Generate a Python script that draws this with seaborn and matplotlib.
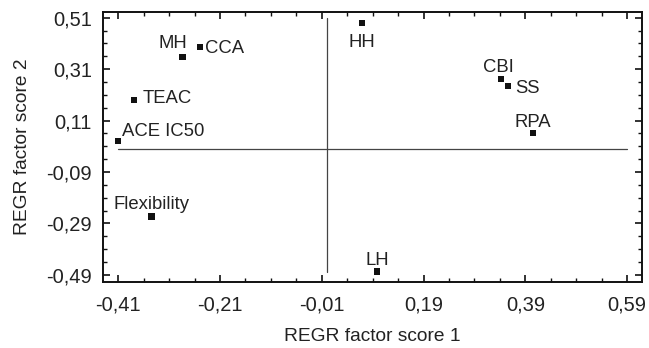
import matplotlib
matplotlib.use("Agg")
import matplotlib.pyplot as plt
from matplotlib.ticker import FixedLocator, FuncFormatter
import seaborn as sns
import pandas as pd

# -------------------------
# Data
# -------------------------

labels = ["MH", "CCA", "TEAC", "ACE IC50", "HH", "CBI", "SS", "RPA", "Flexibility", "LH"]
score1 = [-0.284, -0.249, -0.379, -0.410, 0.069, 0.342, 0.356, 0.405, -0.345, 0.099]
score2 = [0.357, 0.396, 0.190, 0.031, 0.489, 0.272, 0.245, 0.062, -0.263, -0.476]

x_ticks = [-0.41, -0.21, -0.01, 0.19, 0.39, 0.59]
y_ticks = [-0.49, -0.29, -0.09, 0.11, 0.31, 0.51]

# label placement: (dx, dy in points, ha)
label_pos = {
    "MH": (-7, 10, "center"),
    "CCA": (3.5, -1.2, "left"),
    "TEAC": (6, 1.4, "left"),
    "ACE IC50": (2.5, 6.5, "left"),
    "HH": (0, -14, "center"),
    "CBI": (-2, 8, "center"),
    "SS": (5.5, -2.2, "left"),
    "RPA": (0, 7.5, "center"),
    "Flexibility": (0, 8.6, "center"),
    "LH": (0, 8, "center"),
}

df = pd.DataFrame({"label": labels, "s1": score1, "s2": score2})

sns.set_style("ticks")
plt.rcParams["font.family"] = ["Liberation Sans", "DejaVu Sans"]

fig = plt.figure(figsize=(6.49, 3.48), dpi=100)
ax = fig.add_axes([0.159, 0.190, 0.830, 0.776])

# reference cross
ax.plot([-0.41, 0.59], [0, 0], color="#444444", lw=0.9, zorder=1)
ax.plot([0, 0], [-0.48, 0.51], color="#444444", lw=0.9, zorder=1)

sns.scatterplot(data=df, x="s1", y="s2", marker="s", color="#111111",
                s=22, edgecolor="none", ax=ax, zorder=3)

for _, row in df.iterrows():
    dx, dy, ha = label_pos[row["label"]]
    ax.annotate(row["label"], (row["s1"], row["s2"]), xytext=(dx, dy),
                textcoords="offset points", ha=ha, va="center",
                fontsize=13.3, color="#222222")

ax.set_xlim(-0.4395, 0.619)
ax.set_ylim(-0.517, 0.533)

comma = FuncFormatter(lambda v, p: f"{v:.2f}".replace(".", ","))
ax.xaxis.set_major_locator(FixedLocator(x_ticks))
ax.yaxis.set_major_locator(FixedLocator(y_ticks))
ax.xaxis.set_major_formatter(comma)
ax.yaxis.set_major_formatter(comma)
ax.xaxis.set_minor_locator(FixedLocator([-0.41 + 0.05 * i for i in range(21)]))
ax.yaxis.set_minor_locator(FixedLocator([-0.49 + 0.05 * i for i in range(21)]))

ax.tick_params(which="both", direction="in", top=True, right=True,
               color="#111111", labelsize=14.5, labelcolor="#222222")
ax.tick_params(which="major", length=5, width=1.2)
ax.tick_params(axis="x", which="major", pad=10)
ax.tick_params(axis="y", which="major", pad=8)
ax.tick_params(which="minor", length=3, width=1.0)

for sp in ax.spines.values():
    sp.set_visible(True)
    sp.set_linewidth(1.4)
    sp.set_color("#111111")

ax.set_xlabel("REGR factor score 1", fontsize=13.8, color="#222222", labelpad=9.5)
ax.set_ylabel("REGR factor score 2", fontsize=13.8, color="#222222", labelpad=11)

fig.savefig("out.png", dpi=100)
plt.close(fig)
